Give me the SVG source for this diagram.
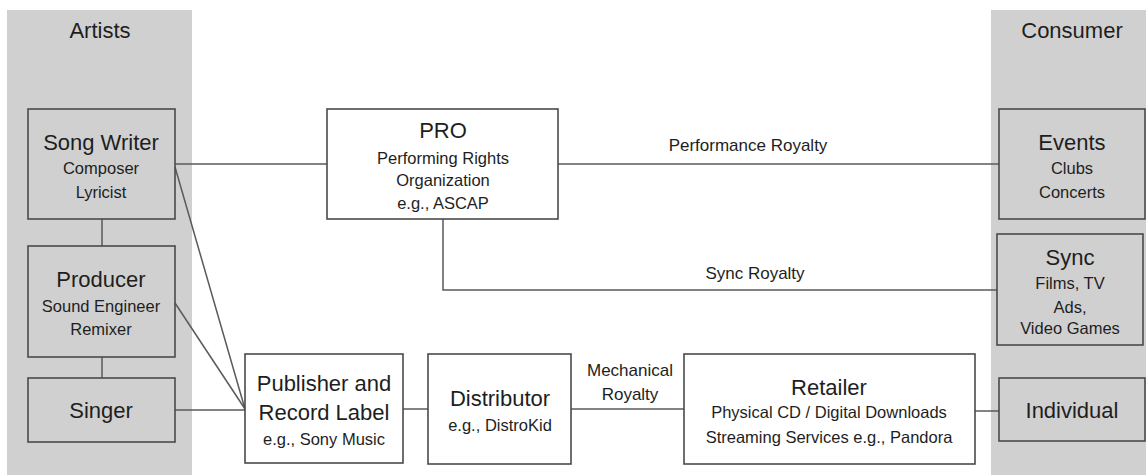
<svg xmlns="http://www.w3.org/2000/svg" width="1146" height="475" viewBox="0 0 1146 475">
  <style>
    .panel { fill: #d0d0d0; stroke: none; }
    .box { stroke: #4a4a4a; stroke-width: 1.6; }
    .grey { fill: #d0d0d0; }
    .white { fill: #ffffff; }
    .wire { fill: none; stroke: #5a5a5a; stroke-width: 1.5; }
    text { font-family: "Liberation Sans", Arial, sans-serif; fill: #1e1e1e; text-anchor: middle; }
    .head { font-size: 22px; }
    .title { font-size: 22px; }
    .sub { font-size: 16.5px; }
    .lbl { font-size: 17px; }
  </style>

  <!-- column backgrounds -->
  <g id="artists-panel">
    <rect class="panel" x="7" y="10" width="185" height="465"/>
    <text class="head" x="100" y="38">Artists</text>
  </g>
  <g id="consumer-panel">
    <rect class="panel" x="991" y="10" width="155" height="465"/>
    <text class="head" x="1072" y="38">Consumer</text>
  </g>

  <!-- connectors -->
  <g id="connectors">
    <line class="wire" x1="175" y1="164" x2="327" y2="164"/>
    <line class="wire" x1="102" y1="219" x2="102" y2="246"/>
    <line class="wire" x1="102" y1="357" x2="102" y2="378"/>
    <line class="wire" x1="175" y1="167" x2="245" y2="409"/>
    <line class="wire" x1="175" y1="303" x2="245" y2="409"/>
    <line class="wire" x1="175" y1="410" x2="245" y2="410"/>
    <line class="wire" x1="558" y1="164" x2="999" y2="164"/>
    <polyline class="wire" points="443,219 443,290 997,290"/>
    <line class="wire" x1="403" y1="409" x2="428" y2="409"/>
    <line class="wire" x1="571" y1="409" x2="684" y2="409"/>
    <line class="wire" x1="975" y1="411" x2="999" y2="411"/>
    <text class="lbl" x="748" y="151">Performance Royalty</text>
    <text class="lbl" x="755" y="279">Sync Royalty</text>
    <text class="lbl" x="630" y="376">Mechanical</text>
    <text class="lbl" x="630" y="400">Royalty</text>
  </g>

  <g id="song-writer">
    <rect class="box grey" x="28" y="109" width="147" height="110"/>
    <text class="title" x="101" y="150">Song Writer</text>
    <text class="sub" x="101" y="174">Composer</text>
    <text class="sub" x="101" y="198">Lyricist</text>
  </g>

  <g id="producer">
    <rect class="box grey" x="28" y="246" width="147" height="111"/>
    <text class="title" x="101" y="287">Producer</text>
    <text class="sub" x="101" y="312">Sound Engineer</text>
    <text class="sub" x="101" y="335">Remixer</text>
  </g>

  <g id="singer">
    <rect class="box grey" x="28" y="378" width="147" height="64"/>
    <text class="title" x="101" y="418">Singer</text>
  </g>

  <g id="pro">
    <rect class="box white" x="327" y="109" width="231" height="110"/>
    <text class="title" x="443" y="138">PRO</text>
    <text class="sub" x="443" y="164">Performing Rights</text>
    <text class="sub" x="443" y="186">Organization</text>
    <text class="sub" x="443" y="209">e.g., ASCAP</text>
  </g>

  <g id="publisher">
    <rect class="box white" x="245" y="354" width="158" height="109"/>
    <text class="title" x="324" y="391">Publisher and</text>
    <text class="title" x="324" y="420">Record Label</text>
    <text class="sub" x="324" y="445">e.g., Sony Music</text>
  </g>

  <g id="distributor">
    <rect class="box white" x="428" y="354" width="143" height="110"/>
    <text class="title" x="500" y="406">Distributor</text>
    <text class="sub" x="500" y="431">e.g., DistroKid</text>
  </g>

  <g id="retailer">
    <rect class="box white" x="684" y="354" width="291" height="110"/>
    <text class="title" x="829" y="395">Retailer</text>
    <text class="sub" x="829" y="418">Physical CD / Digital Downloads</text>
    <text class="sub" x="829" y="443">Streaming Services e.g., Pandora</text>
  </g>

  <g id="events">
    <rect class="box grey" x="999" y="109" width="146" height="110"/>
    <text class="title" x="1072" y="150">Events</text>
    <text class="sub" x="1072" y="174">Clubs</text>
    <text class="sub" x="1072" y="198">Concerts</text>
  </g>

  <g id="sync">
    <rect class="box grey" x="997" y="234" width="146" height="111"/>
    <text class="title" x="1070" y="265">Sync</text>
    <text class="sub" x="1070" y="289">Films, TV</text>
    <text class="sub" x="1070" y="313">Ads,</text>
    <text class="sub" x="1070" y="334">Video Games</text>
  </g>

  <g id="individual">
    <rect class="box grey" x="999" y="378" width="146" height="63"/>
    <text class="title" x="1072" y="418">Individual</text>
  </g>
</svg>
